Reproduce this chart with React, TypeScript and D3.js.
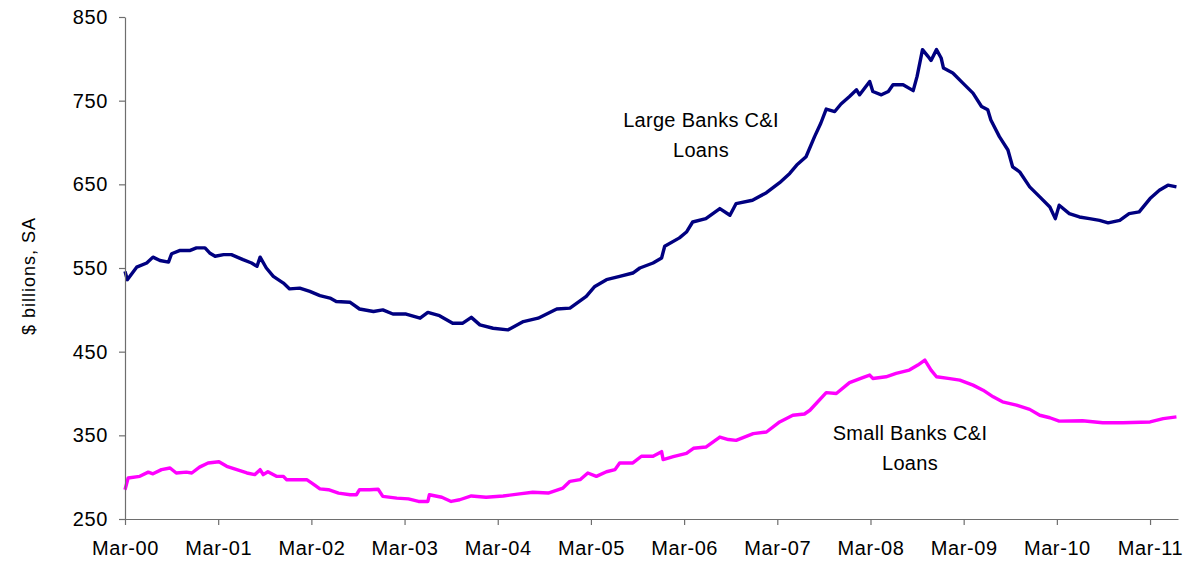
import { useEffect, useRef } from "react";
import * as d3 from "d3";

// months since Mar-2000
const largeMonths = [
  0, 0.3, 1.5, 2.8, 3.6, 4.5, 5.6, 6, 7.1, 8.4, 9.2, 10.3, 10.9, 11.6, 12.7,
  13.7, 15.2, 16.3, 17, 17.4, 18.2, 19.1, 20.4, 21.2, 22.5, 23.8, 25.1, 26.4,
  27.2, 29, 30.2, 32, 33.2, 34.5, 36.2, 38, 39, 40.5, 42.2, 43.5, 44.6, 45.7,
  47.4, 49.3, 51.3, 53.2, 55.6, 57.3, 59.4, 60.5, 62, 63.7, 65.4, 66.3, 68,
  69.1, 69.5, 71.4, 72.3, 73.1, 74.8, 76.6, 77.9, 78.7, 80.8, 82.6, 84.3, 85.6,
  86.5, 87.7, 88.8, 89.6, 90.3, 91.4, 92.2, 93.3, 94.2, 94.6, 95.9, 96.3, 97.4,
  98.3, 98.9, 100.2, 101.5, 102, 102.7, 103.4, 103.8, 104.5, 105.1, 105.4,
  106.6, 107.9, 109.2, 110.3, 111.1, 111.5, 112.6, 113.7, 114.3, 115.2, 116.5,
  117.8, 119.1, 119.8, 120.3, 121.6, 122.9, 124.2, 125.5, 126.6, 128.1, 129.3,
  130.6, 132, 133.2, 134.3, 135.4,
];
const largeValues = [
  546, 536, 551, 556, 563, 559, 557, 567, 571, 571, 574, 574, 568, 564, 566,
  566, 560, 556, 552, 563, 550, 540, 532, 525, 526, 522, 517, 514,
  510, 509, 501, 498, 500, 495, 495, 490, 497, 493, 484, 484, 491, 482,
  478, 476, 486, 490, 501, 502, 516, 528, 536, 540, 544, 550, 556,
  562, 576, 586, 593, 605, 609, 621, 613, 627, 631, 640, 652, 663,
  673, 683, 707, 723, 740, 737, 746, 755, 763, 757, 773, 761, 757,
  761, 769, 769, 762, 779, 811, 803, 798, 811, 801, 789,
  783, 771, 759, 743, 739, 727, 707, 691, 671, 665, 647,
  635, 623, 609, 625, 615, 611, 609, 607, 604, 607, 615,
  617, 633, 643, 649, 647,
];

const smallMonths = [
  0, 0.4, 1.9, 3, 3.6, 4.7, 5.8, 6.6, 7.9, 8.6, 9.6, 10.7, 12.1, 13.1, 14.4,
  15.7, 16.7, 17.4, 17.8, 18.4, 19.5, 20.4, 20.8, 23.4, 24.2, 25.1, 26.2, 27.5,
  29, 29.8, 30.2, 31.5, 32.6, 33.2, 35, 36.5, 37.8, 39, 39.2, 40.8, 42, 43.1,
  44.6, 46.5, 48.7, 50.8, 52.5, 54.5, 56.4, 57.3, 58.6, 59.6, 60.7, 62, 63.1,
  63.7, 65.4, 66.5, 68, 69.1, 69.3, 70.6, 72.3, 73.2, 74.8, 76.6, 77.7, 78.7,
  80.9, 82.6, 84.3, 86, 87.5, 88.2, 90.3, 91.6, 93.3, 95, 95.9, 96.3, 98, 99.3,
  101, 102.1, 103, 103.8, 104.5, 106, 107.5, 109.2, 110.5, 111.8, 113, 114.8,
  116.5, 117.8, 119.1, 120.3, 123.3, 125.9, 128.5, 132, 133.7, 135.4,
];
const smallValues = [
  285, 299, 301, 306, 304, 309, 311, 305, 306, 305, 312, 317, 318.5, 313, 309,
  305, 303, 309, 303, 306.5, 301, 301, 297, 297, 292, 286, 285, 281,
  279, 279, 285, 285, 285.5, 277, 275, 274, 271, 271, 279, 276, 271, 273,
  277.5, 276, 277.5, 280, 282, 281, 287, 295, 297, 305, 301, 306.5, 309,
  317, 317, 325, 325, 330.5, 321, 324.5, 328.5, 334.5, 336, 348, 345, 344,
  352, 354, 366, 374, 375.5, 380, 401, 400, 413, 419, 422, 418, 420, 424,
  428, 434, 440, 428, 420, 418, 416, 410, 404, 396, 390, 386,
  381, 374, 371, 367, 367.5, 365, 365, 366, 370, 372,
];

const xTickMonths = [0, 12, 24, 36, 48, 60, 72, 84, 96, 108, 120, 132];
const xTickLabels = [
  "Mar-00", "Mar-01", "Mar-02", "Mar-03", "Mar-04", "Mar-05",
  "Mar-06", "Mar-07", "Mar-08", "Mar-09", "Mar-10", "Mar-11",
];
const yTicks = [250, 350, 450, 550, 650, 750, 850];

const WIDTH = 1185;
const HEIGHT = 563;
const FONT = "'Liberation Sans', Arial, sans-serif";

export default function App() {
  const ref = useRef<SVGSVGElement>(null);

  useEffect(() => {
    const svg = d3.select(ref.current);
    svg.selectAll("*").remove();

    const x = d3.scaleLinear().domain([0, 135.6]).range([125, 1178]);
    const y = d3.scaleLinear().domain([250, 850]).range([519, 17]);

    const line = d3
      .line<[number, number]>()
      .x((d) => x(d[0]))
      .y((d) => y(d[1]));

    const large = largeMonths.map((m, i) => [m, largeValues[i]] as [number, number]);
    const small = smallMonths.map((m, i) => [m, smallValues[i]] as [number, number]);

    svg
      .append("path")
      .datum(small)
      .attr("fill", "none")
      .attr("stroke", "#ff00ff")
      .attr("stroke-width", 3.4)
      .attr("stroke-linejoin", "round")
      .attr("d", line);

    svg
      .append("path")
      .datum(large)
      .attr("fill", "none")
      .attr("stroke", "#000080")
      .attr("stroke-width", 3.4)
      .attr("stroke-linejoin", "round")
      .attr("d", line);

    const xAxis = svg
      .append("g")
      .attr("transform", `translate(0, ${y(250)})`)
      .call(
        d3
          .axisBottom(x)
          .tickValues(xTickMonths)
          .tickFormat((d, i) => xTickLabels[i])
          .tickSizeInner(6)
          .tickSizeOuter(0)
          .tickPadding(16)
      );

    const yAxis = svg
      .append("g")
      .attr("transform", `translate(${x(0)}, 0)`)
      .call(
        d3
          .axisLeft(y)
          .tickValues(yTicks)
          .tickSizeInner(6)
          .tickSizeOuter(0)
          .tickPadding(11)
      );

    [xAxis, yAxis].forEach((g) => {
      g.selectAll("path, line").attr("stroke", "#6e6e6e").attr("stroke-width", 1.2);
      g.selectAll("text")
        .attr("fill", "#000")
        .style("font-family", FONT)
        .style("font-size", "20px")
        .style("letter-spacing", "0.6px");
    });

    svg
      .append("text")
      .attr("transform", "translate(35, 276) rotate(-90)")
      .attr("text-anchor", "middle")
      .style("font-family", FONT)
      .style("font-size", "18px")
      .style("letter-spacing", "1px")
      .text("$ billions, SA");

    const notes = [
      { lines: ["Large Banks C&I", "Loans"], cx: 701, top: 127 },
      { lines: ["Small Banks C&I", "Loans"], cx: 910, top: 440 },
    ];
    notes.forEach((n) => {
      n.lines.forEach((t, i) => {
        svg
          .append("text")
          .attr("x", n.cx)
          .attr("y", n.top + i * 29.5)
          .attr("text-anchor", "middle")
          .style("font-family", FONT)
          .style("font-size", "20px")
          .style("letter-spacing", "0.3px")
          .text(t);
      });
    });
  }, []);

  return (
    <svg
      ref={ref}
      width={WIDTH}
      height={HEIGHT}
      style={{ position: "absolute", left: 0, top: 0, background: "#fff" }}
    />
  );
}
